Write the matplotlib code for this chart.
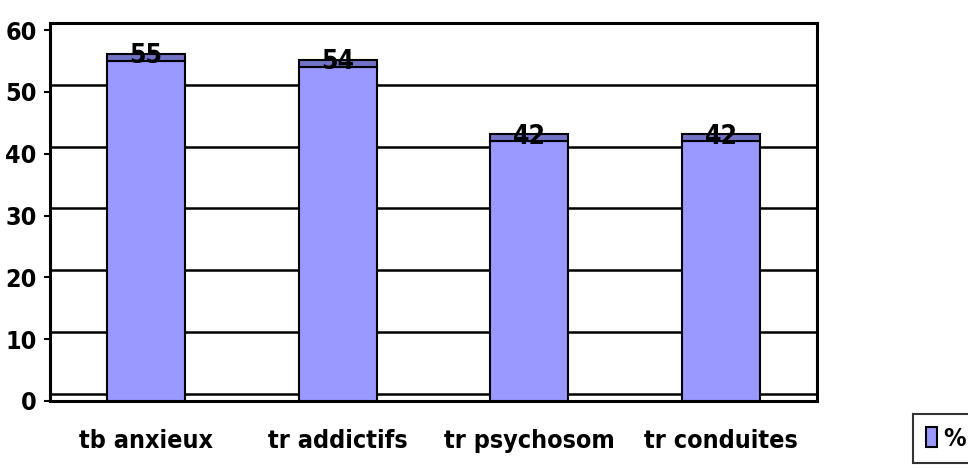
import matplotlib.pyplot as plt

categories = ['tb anxieux', 'tr addictifs', 'tr psychosom', 'tr conduites']
values = [55, 54, 42, 42]
yticks = [0, 10, 20, 30, 40, 50, 60]

plt.rcParams['font.family'] = ['DejaVu Sans']
plt.rcParams['font.stretch'] = 'condensed'
plt.rcParams['font.weight'] = 'bold'

face = '#9999ff'
top = '#7272c6'
depth = 1.15  # depth of the 3D wall, in data units

fig = plt.figure(figsize=(9.68, 4.68), dpi=100)
ax = fig.add_axes([50 / 968, 67 / 468, 767 / 968, 378 / 468])

x = list(range(len(categories)))

# back wall gridlines (shifted up by depth)
for v in yticks[:-1]:
    ax.axhline(v + depth, color='black', lw=1.8, zorder=1)

bars = ax.bar(x, values, width=0.406, color=face, edgecolor='black', lw=1.5, zorder=3, label='%')
ax.bar(x, [depth] * len(x), bottom=values, width=0.406, color=top, edgecolor='black', lw=1.5, zorder=3)

for xi, v in zip(x, values):
    ax.text(xi, v - 0.35, str(v), ha='center', va='baseline', fontsize=19, fontweight='bold', zorder=5)

ax.set_xlim(-0.5, 3.5)
ax.set_ylim(0, 60 + depth)
ax.set_yticks(yticks)
ax.set_xticks(x)
ax.set_xticklabels(categories)
ax.tick_params(axis='y', length=4.5, width=1.5, pad=5, labelsize=18)
ax.tick_params(axis='x', length=0, pad=20, labelsize=18)
for s in ax.spines.values():
    s.set_linewidth(2.2)

leg = fig.legend(handles=[bars], labels=['%'], loc='upper left', bbox_to_anchor=(913 / 968, 54 / 468),
                 fontsize=18, frameon=True, fancybox=False, edgecolor='black', handlelength=0.45,
                 handleheight=0.9, handletextpad=0.25, borderpad=0.5, borderaxespad=0)
leg.get_frame().set_linewidth(1.5)

fig.savefig('out.png', dpi=100)
